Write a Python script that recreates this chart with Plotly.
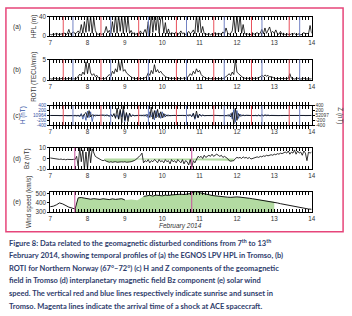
import plotly.graph_objects as go

W, H = 352, 316

# ---------------- data ----------------
day_ticks = [7, 8, 9, 10, 11, 12, 13, 14]
day_tick_labels = ["7", "8", "9", "10", "11", "12", "13", "14"]

# (a) EGNOS LPV HPL in Tromso (m), hourly from 7 Feb 00 UT
hpl_m = [
    4, 3, 5, 4, 6, 4, 3, 5, 4, 7, 3, 5, 14, 4, 6, 9, 5, 7, 11, 6, 24, 6, 30, 8,
    45, 10, 42, 6, 38, 12, 5, 4, 6, 4, 5, 8, 20, 7, 12, 5, 30, 8, 45, 6, 45, 10, 42, 5,
    45, 8, 40, 6, 12, 5, 7, 4, 6, 4, 11, 5, 7, 14, 4, 30, 6, 45, 8, 40, 12, 45, 6, 35,
    40, 6, 28, 5, 15, 4, 7, 6, 5, 9, 4, 6, 11, 5, 7, 4, 6, 10, 5, 8, 13, 5, 45, 8,
    45, 7, 20, 5, 5, 4, 6, 3, 5, 4, 8, 4, 6, 5, 4, 9, 5, 17, 7, 4, 6, 11, 40, 6,
    45, 9, 45, 6, 24, 5, 4, 5, 3, 4, 7, 4, 5, 8, 4, 6, 14, 5, 17, 6, 12, 19, 7, 10,
    6, 13, 5, 4, 10, 4, 6, 3, 5, 4, 3, 5, 4, 6, 3, 4, 5, 3, 4, 8, 4, 6, 5, 22,
    6,
]

# (b) ROTI Northern Norway (TECU/min), hourly
roti = [
    0.4, 0.3, 0.4, 0.5, 0.4, 0.3, 0.3, 0.4, 0.5, 0.4, 0.3, 0.4, 0.5, 0.4, 0.3, 0.4, 0.3, 0.4, 0.9, 1.5, 1.1, 2.0, 1.4, 4.5,
    1.6, 4.2, 1.8, 1.2, 1.6, 0.9, 1.2, 0.6, 0.5, 0.4, 0.5, 0.4, 0.6, 0.9, 1.4, 1.0, 2.2, 1.6, 2.8, 2.0, 4.6, 2.4, 5.0, 2.2,
    2.6, 1.8, 1.4, 1.0, 0.8, 0.6, 0.5, 0.4, 0.5, 0.4, 0.5, 0.4, 0.5, 0.6, 0.9, 1.8, 1.2, 2.4, 1.6, 3.8, 2.0, 2.6, 1.8, 2.2,
    1.6, 1.2, 0.9, 0.7, 0.6, 0.5, 0.4, 0.5, 0.4, 0.4, 0.5, 0.4, 0.5, 0.4, 0.6, 0.5, 0.7, 1.0, 1.6, 1.2, 2.2, 1.6, 2.8, 2.0,
    2.4, 1.4, 1.0, 0.7, 0.5, 0.4, 0.5, 0.4, 0.4, 0.5, 0.4, 0.5, 0.4, 0.4, 0.5, 0.4, 0.6, 0.8, 1.2, 1.6, 1.1, 2.0, 1.4, 5.0,
    2.0, 1.6, 1.2, 0.8, 0.6, 0.5, 0.4, 0.5, 0.4, 0.5, 0.4, 0.5, 0.4, 0.5, 0.6, 0.8, 1.2, 0.9, 1.3, 1.0, 1.2, 0.8, 0.9, 0.6,
    0.5, 0.4, 0.5, 0.4, 0.5, 0.4, 0.5, 0.4, 0.5, 0.4, 1.6, 0.5, 0.4, 0.3, 0.4, 0.5, 0.4, 0.3, 0.4, 0.5, 0.4, 0.3, 0.4, 0.3,
    0.4,
]

# (c) H and Z variations in Tromso (nT), hourly
h_nT = [
    0, 5, -5, 0, 5, 0, -5, 0, 10, 5, 0, -10, 0, 5, 0, -10, 10, -20, 20, -60, 80, -150, 60, -200,
    180, -90, 150, -250, 40, -30, 20, 0, 10, -10, 20, -20, 30, 10, -40, 60, -20, 40, -80, 30, -150, 180, -60, 200,
    -250, 90, -100, 60, -30, 20, -10, 0, 10, -5, 10, -20, 20, -30, 60, -100, 150, -60, 120, -180, 200, -50, 100, -120,
    150, -80, 60, -30, 20, -10, 5, 0, 5, -5, 0, 10, -5, 0, 5, -10, 10, -20, 30, -50, 100, -160, 40, -80,
    60, -30, 20, -10, 5, 0, -5, 0, 5, 0, -5, 10, 0, -10, 10, 0, 5, -10, 20, -40, 80, -150, 250, -280,
    200, -120, 60, -30, 20, -10, 5, 0, -5, 0, 5, -10, 10, -20, 20, -30, 40, -20, 30, -10, 20, -10, 5, 0,
    5, -5, 0, 5, 0, -5, 0, 5, 0, -5, 0, 5, 0, 0, 5, 0, -5, 0, 5, 0, -5, 0, 5, 0,
    0,
]
z_nT = [
    0, 0, 5, 0, -5, 0, 0, 5, 0, 0, -5, 0, 0, 5, 0, 0, -5, 0, 10, -10, 30, -40, 60, 120,
    -80, 200, -60, 30, -20, 10, 0, 5, 0, -5, 0, 10, -10, 5, -20, 30, -50, 80, -120, 300, -150, 250, -300, 380,
    -200, 120, -250, 100, -50, 20, -10, 0, 5, 0, -5, 10, -10, 20, -30, 50, -80, 350, -150, 200, -100, 250, -90, 150,
    -100, 80, -50, 20, -10, 5, 0, 0, 5, 0, -5, 0, 5, 0, -5, 0, 10, -10, 20, -40, 80, -120, 180, -100,
    50, -20, 10, -5, 0, 5, 0, 0, -5, 0, 5, 0, 0, -5, 5, 0, 0, 5, -10, 30, -60, 120, -350, 300,
    -200, 80, -30, 10, -5, 0, 5, 0, 0, -5, 0, 5, 0, -5, 10, -10, 15, -10, 10, -5, 5, 0, -5, 0,
    0, 5, 0, -5, 0, 0, 5, 0, -5, 0, 0, 5, 0, 0, -5, 0, 5, 0, 0, -5, 0, 5, 0, 0,
    0,
]
h_tick_labels = ["-400", "-200", "10964", "200", "400"]
z_tick_labels = ["-400", "-200", "52097", "200", "400"]

# (d) IMF Bz (nT), hourly
bz_nT = [
    0.5, 0.3, 0, -0.5, -0.3, -0.6, -0.8, -0.5, -1, -0.7, -1.2, -0.8, -1, -1.5, -1, -0.8, -1, 2, -7, 10, -3, 8, -10, 6,
    -10, 10, -4, 9, 5, 2, 1, 0, -1, -1.5, -2, -1.5, -2.5, -3, -3.5, -3, -3.5, -3.2, -3, -3.5, -3.2, -3.4, -3.1, -3.3,
    -3, -3.5, -3, -3.2, -3, -2.8, -2, -1, 0, 1.5, 3, 5, -4, -2, -3, -1, -4, -2, -3, -1, -2, -4, -1, -3,
    -2, -4, -1, -3, -2, -5, -1, -3, -2, -4, -1, -3, -4, -1, -5, -2, -3, -6, -1, -8, -2, -4, 0, 2,
    1, 2, 0, 3, 1, 2, 3, 2, 4, 2, 3, 4, 3, 2, 3, 1, 2, 1, 0, -2, -2.5, -2.2, -2, 0,
    1, 0.5, 1, 0, 1.5, 0.5, 1, 0, 1, -0.5, 0, 0.5, 1, 1.5, 1, 2, 1.5, 2.5, 2, 3, 2.5, 3, 3.5, 3,
    4, 3.5, 4.5, 4, 5, 4.5, 5, 6, 5, 7, 4, 6, 5, 8, 4, 7, 5, 6, 3, 7, 5, -2, 6, 5,
    6,
]
bz_fill_windows = [(8.45, 9.30), (11.78, 11.95)]

# (e) Solar wind speed (km/s), 2-hourly
wind_kms = [
    360, 365, 380, 400, 390, 370, 355, 345, 335, 455, 458, 452,
    448, 440, 446, 442, 438, 445, 440, 436, 444, 438, 442, 446,
    432, None, 438, None, 430, None, 470, 478, 482, 474, 484, 480,
    476, 484, 480, 486, 490, 486, 494, 490, 496, 500, 515, 525,
    510, 500, 495, 488, 480, 475, 470, 468, 465, 462, 460, 465,
    465, 462, 460, 455, 450, 445, 440, 435, 430, 425, 420, 418,
    412, 400, 392, 385, 378, 370, 365, 360, 352, 345, 340, 335,
    332,
]
wind_fill_window = (7.66, 13.05)

sunrise = [7.35, 8.36, 9.37, 10.38, 11.38, 12.39, 13.40]
sunset = [7.61, 8.62, 9.63, 10.65, 11.66, 12.67, 13.68]
shock = [7.66, 10.79]

t_hourly = [7 + i / 24 for i in range(len(hpl_m))]
t_2h = [7 + i / 12 for i in range(len(wind_kms))]

# ---------------- styling ----------------
RED = "#e8505b"
BLUE_LINE = "#7282c4"
MAGENTA = "#c8509e"
GREEN = "#b3dba2"
HBLUE = "#3553a5"
PINK = "#e6457a"
CAPTION = "#2e3c6c"
FONT = "Liberation Sans, Arial, sans-serif"


def fx(px):
    return px / W


def fy(py):
    return 1 - py / H


X_DOM = [fx(49), fx(315)]
panels = [(13, 33), (57, 78), (104, 124), (147, 169), (192, 213)]

# tick marks every two hours; labels only at whole days
tick_positions = [7 + k / 12 for k in range(85)]
tick_texts = [day_tick_labels[k // 12] if k % 12 == 0 else "" for k in range(85)]

fig = go.Figure()


def xaxis_cfg(i):
    return dict(
        domain=X_DOM, anchor="y" if i == 0 else f"y{i+1}",
        range=[7, 14], tickmode="array", tickvals=tick_positions, ticktext=tick_texts,
        ticks="inside", ticklen=3, tickwidth=0.8, tickcolor="black",
        showline=True, linecolor="black", linewidth=0.8, mirror="allticks",
        showgrid=False, zeroline=False,
        tickfont=dict(size=6.3, color="#333", family=FONT),
    )


def yaxis_cfg(i, rng, tv, tt, color="#333", size=6.3):
    top, bot = panels[i]
    return dict(
        domain=[fy(bot), fy(top)], anchor="x" if i == 0 else f"x{i+1}",
        range=rng, tickvals=tv, ticktext=tt,
        ticks="outside", ticklen=2, tickwidth=0.8, tickcolor="black",
        showline=True, linecolor="black", linewidth=0.8, mirror=True,
        showgrid=False, zeroline=False,
        tickfont=dict(size=size, color=color, family=FONT),
    )


layout = dict(
    width=W, height=H, margin=dict(l=0, r=0, t=0, b=0),
    paper_bgcolor="white", plot_bgcolor="white", showlegend=False,
    font=dict(family=FONT, size=7, color="#222"),
)
for i in range(5):
    layout["xaxis" if i == 0 else f"xaxis{i+1}"] = xaxis_cfg(i)

layout["yaxis"] = yaxis_cfg(0, [0, 40], [0, 40], ["0", "40"])
layout["yaxis2"] = yaxis_cfg(1, [0, 5], [0, 5], ["0", "5"])
layout["yaxis3"] = yaxis_cfg(2, [-400, 400], [-400, -200, 0, 200, 400], h_tick_labels, color=HBLUE, size=4.8)
layout["yaxis4"] = yaxis_cfg(3, [-10, 10], [-10, 0, 10], ["-10", "0", "10"])
layout["yaxis5"] = yaxis_cfg(4, [300, 520], [300, 400, 500], ["300", "400", "500"])
y6 = yaxis_cfg(2, [-400, 400], [-400, -200, 0, 200, 400], z_tick_labels, size=4.8)
y6.update(overlaying="y3", side="right", anchor="x3", mirror=False)
layout["yaxis6"] = y6
fig.update_layout(**layout)

# ---- panel a ----
fig.add_trace(go.Scatter(x=t_hourly, y=hpl_m, mode="lines", line=dict(color="black", width=0.8),
                         xaxis="x", yaxis="y"))
# ---- panel b ----
fig.add_trace(go.Scatter(x=t_hourly, y=roti, mode="lines", line=dict(color="black", width=0.8),
                         xaxis="x2", yaxis="y2"))
# ---- panel c ----
fig.add_trace(go.Scatter(x=t_hourly, y=h_nT, mode="lines", line=dict(color=HBLUE, width=0.8),
                         xaxis="x3", yaxis="y3"))
fig.add_trace(go.Scatter(x=t_hourly, y=z_nT, mode="lines", line=dict(color="black", width=0.8),
                         xaxis="x3", yaxis="y6"))
# ---- panel d ----
bz_fill = [v if any(a <= t <= b for a, b in bz_fill_windows) else None for t, v in zip(t_hourly, bz_nT)]
fig.add_trace(go.Scatter(x=t_hourly, y=bz_fill, mode="lines", line=dict(width=0, color=GREEN),
                         fill="tozeroy", fillcolor=GREEN, xaxis="x4", yaxis="y4"))
fig.add_trace(go.Scatter(x=t_hourly, y=bz_nT, mode="lines", line=dict(color="black", width=0.8),
                         xaxis="x4", yaxis="y4"))
# ---- panel e ----
wa, wb = wind_fill_window
wind_fill = [v if (wa <= t <= wb) else None for t, v in zip(t_2h, wind_kms)]
fig.add_trace(go.Scatter(x=t_2h, y=wind_fill, mode="lines", line=dict(width=0, color=GREEN),
                         fill="tozeroy", fillcolor=GREEN, xaxis="x5", yaxis="y5"))
fig.add_trace(go.Scatter(x=t_2h, y=wind_kms, mode="lines", line=dict(color="black", width=0.9),
                         xaxis="x5", yaxis="y5"))

# vertical marker lines
for ax in ["", "2", "3"]:
    for v in sunrise:
        fig.add_shape(type="line", xref=f"x{ax}", yref=f"y{ax} domain", x0=v, x1=v, y0=0, y1=1,
                      line=dict(color=RED, width=1))
    for v in sunset:
        fig.add_shape(type="line", xref=f"x{ax}", yref=f"y{ax} domain", x0=v, x1=v, y0=0, y1=1,
                      line=dict(color=BLUE_LINE, width=1))
for ax in ["4", "5"]:
    for v in shock:
        fig.add_shape(type="line", xref=f"x{ax}", yref=f"y{ax} domain", x0=v, x1=v, y0=0, y1=1,
                      line=dict(color=MAGENTA, width=1))

# pink border
fig.add_shape(type="rect", xref="paper", yref="paper", x0=fx(4), x1=fx(347), y0=fy(233), y1=fy(4),
              line=dict(color=PINK, width=1.5))

ann = []
# panel letters
for lab, py in [("(a)", 24), ("(b)", 68), ("(c)", 115), ("(d)", 158), ("(e)", 202)]:
    ann.append(dict(text=lab, x=fx(15), y=fy(py), xref="paper", yref="paper", showarrow=False,
                    font=dict(size=6.5, color="#333", family=FONT), xanchor="center", yanchor="middle"))
# axis titles
for txt, px, py, col in [("HPL (m)", 33, 23, "#333"), ("ROTI (TECU/min)", 33, 74, "#333"),
                         ("H (nT)", 22, 114, HBLUE), ("Bz (nT)", 25, 158, "#333"),
                         ("Wind speed (km/s)", 27, 202, "#333")]:
    ann.append(dict(text=txt, x=fx(px), y=fy(py), xref="paper", yref="paper", showarrow=False,
                    textangle=-90, font=dict(size=6.3, color=col, family=FONT),
                    xanchor="center", yanchor="middle"))
ann.append(dict(text="Z (nT)", x=fx(343), y=fy(114), xref="paper", yref="paper", showarrow=False,
                textangle=90, font=dict(size=6.3, color="#333", family=FONT),
                xanchor="center", yanchor="middle"))
ann.append(dict(text="<i>February 2014</i>", x=fx(182), y=fy(227), xref="paper", yref="paper",
                showarrow=False, font=dict(size=6.5, color="#333", family=FONT),
                xanchor="center", yanchor="middle"))

caption_lines = [
    "Figure 8: Data related to the geomagnetic disturbed conditions from 7<sup>th</sup> to 13<sup>th</sup>",
    "February 2014, showing temporal profiles of (a) the EGNOS LPV HPL in Tromso, (b)",
    "ROTI for Northern Norway (67°–72°) (c) H and Z components of the geomagnetic",
    "field in Tromso (d) interplanetary magnetic field Bz component (e) solar wind",
    "speed. The vertical red and blue lines respectively indicate sunrise and sunset in",
    "Tromso. Magenta lines indicate the arrival time of a shock at ACE spacecraft.",
]
for k, line in enumerate(caption_lines):
    ann.append(dict(text=f"<b>{line}</b>", x=fx(5), y=fy(244 + 13 * k), xref="paper", yref="paper",
                    showarrow=False, xanchor="left", yanchor="middle", align="left",
                    font=dict(size=7.5, color=CAPTION, family="Lato, Open Sans, sans-serif")))
fig.update_layout(annotations=ann)

fig.write_html("out.html")
